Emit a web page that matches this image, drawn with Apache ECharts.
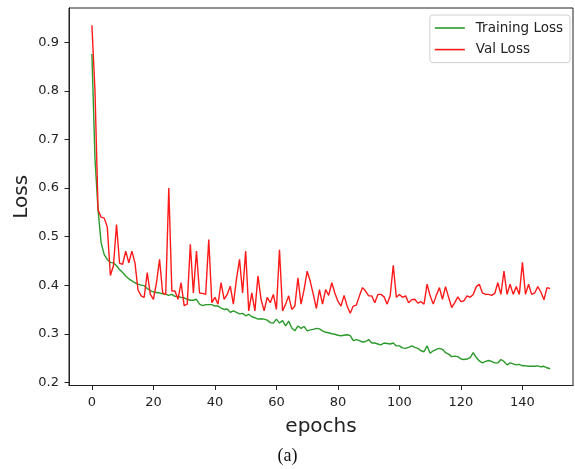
<!DOCTYPE html>
<html>
<head>
<meta charset="utf-8">
<script src="https://cdn.jsdelivr.net/npm/echarts@6/dist/echarts.min.js"></script>
<style>
html,body{margin:0;padding:0;background:#fff;}
#chart{width:575px;height:469px;}
</style>
</head>
<body>
<div id="chart"></div>
<script>
const epochs = Array.from({length:150}, (_, i) => i);
const trainLoss = [
0.876,0.66,0.555,0.487,0.463,0.453,0.447,0.446,0.44,0.432,
0.426,0.419,0.413,0.409,0.405,0.402,0.40,0.399,0.393,0.389,
0.386,0.385,0.384,0.382,0.381,0.379,0.381,0.377,0.377,0.375,
0.374,0.371,0.369,0.369,0.371,0.361,0.358,0.36,0.36,0.36,
0.357,0.357,0.353,0.35,0.351,0.344,0.347,0.344,0.341,0.342,
0.337,0.34,0.335,0.333,0.33,0.331,0.33,0.328,0.323,0.322,
0.33,0.322,0.327,0.316,0.326,0.312,0.306,0.316,0.311,0.315,
0.306,0.308,0.309,0.311,0.31,0.306,0.303,0.302,0.30,0.299,
0.297,0.296,0.297,0.298,0.296,0.286,0.288,0.286,0.283,0.284,
0.288,0.281,0.281,0.279,0.277,0.281,0.28,0.279,0.281,0.275,
0.275,0.271,0.27,0.272,0.275,0.272,0.27,0.265,0.263,0.275,
0.26,0.265,0.268,0.27,0.268,0.261,0.258,0.253,0.254,0.253,
0.248,0.247,0.248,0.251,0.261,0.251,0.244,0.24,0.243,0.245,
0.243,0.24,0.24,0.247,0.243,0.236,0.24,0.238,0.236,0.237,
0.234,0.234,0.233,0.233,0.233,0.234,0.232,0.233,0.23,0.228
];
const valLoss = [
0.935,0.80,0.555,0.54,0.538,0.52,0.42,0.44,0.525,0.445,
0.443,0.47,0.446,0.47,0.446,0.39,0.378,0.375,0.426,0.381,
0.371,0.405,0.453,0.384,0.381,0.60,0.388,0.388,0.371,0.405,
0.358,0.361,0.484,0.384,0.47,0.384,0.383,0.381,0.494,0.364,
0.375,0.361,0.405,0.371,0.381,0.398,0.361,0.412,0.453,0.384,
0.47,0.347,0.384,0.347,0.419,0.371,0.347,0.375,0.364,0.381,
0.35,0.473,0.347,0.361,0.378,0.35,0.357,0.415,0.361,0.391,
0.429,0.408,0.381,0.352,0.391,0.361,0.391,0.379,0.405,0.384,
0.367,0.357,0.379,0.357,0.342,0.357,0.359,0.378,0.395,0.388,
0.378,0.378,0.364,0.381,0.381,0.376,0.361,0.378,0.441,0.375,
0.381,0.375,0.378,0.364,0.37,0.371,0.363,0.366,0.361,0.402,
0.378,0.361,0.379,0.395,0.371,0.397,0.375,0.354,0.364,0.376,
0.366,0.368,0.378,0.375,0.381,0.397,0.402,0.384,0.381,0.381,
0.379,0.383,0.405,0.381,0.429,0.381,0.402,0.381,0.397,0.381,
0.447,0.381,0.402,0.381,0.384,0.397,0.386,0.37,0.395,0.393
];
const xTicks = [0,20,40,60,80,100,120,140];
const yTicks = [0.2,0.3,0.4,0.5,0.6,0.7,0.8,0.9];
const seriesNames = ['Training Loss','Val Loss'];
const xTitle = 'epochs';
const yTitle = 'Loss';
const caption = '(a)';

const font = 'DejaVu Sans';
const chart = echarts.init(document.getElementById('chart'), null, {renderer:'canvas'});
chart.setOption({
  animation:false,
  backgroundColor:'#fff',
  grid:{left:69, right:2, top:8, bottom:83.5, show:true, borderColor:'#222', borderWidth:1, backgroundColor:'transparent'},
  legend:{
    orient:'vertical', right:5, top:15,
    backgroundColor:'rgba(255,255,255,0.8)', borderColor:'#d0d0d0', borderWidth:1, borderRadius:3,
    padding:[5,7,5,5], itemGap:5.6, itemWidth:30, itemHeight:1.6, icon:'rect',
    textStyle:{fontFamily:font, fontSize:13.5, color:'#222', lineHeight:16, padding:[0,0,0,6]},
    data:seriesNames
  },
  xAxis:{
    type:'value', min:-7.45, max:156.45,
    name:xTitle, nameLocation:'middle', nameGap:31,
    nameTextStyle:{fontFamily:font, fontSize:20, color:'#222'},
    axisLine:{show:true, onZero:false, lineStyle:{color:'#222', width:1}},
    axisTick:{show:true, length:4.5, customValues:xTicks, lineStyle:{color:'#222'}},
    axisLabel:{customValues:xTicks, margin:11, fontFamily:font, fontSize:13, color:'#222'},
    splitLine:{show:false}
  },
  yAxis:{
    type:'value', min:0.1935, max:0.9705,
    name:yTitle, nameLocation:'middle', nameGap:37, nameRotate:90, nameMoveOverlap:false,
    nameTextStyle:{fontFamily:font, fontSize:20, color:'#222'},
    axisLine:{show:true, onZero:false, lineStyle:{color:'#222', width:1}},
    axisTick:{show:true, length:4.5, customValues:yTicks, lineStyle:{color:'#222'}},
    axisLabel:{customValues:yTicks, margin:10, fontFamily:font, fontSize:13, color:'#222',
      formatter:v => v.toFixed(1)},
    splitLine:{show:false}
  },
  series:[
    {name:seriesNames[0], type:'line', showSymbol:false, symbol:'none',
     data:epochs.map((e,i)=>[e,trainLoss[i]]),
     lineStyle:{color:'#2a9a2a', width:1.4}, itemStyle:{color:'#2a9a2a'}},
    {name:seriesNames[1], type:'line', showSymbol:false, symbol:'none',
     data:epochs.map((e,i)=>[e,valLoss[i]]),
     lineStyle:{color:'#ff1a1a', width:1.4}, itemStyle:{color:'#ff1a1a'}}
  ],
  graphic:[{
    type:'text', left:'center', top:447,
    style:{text:caption, fontFamily:'Liberation Serif', fontSize:18, fill:'#111'}
  }]
});
</script>
</body>
</html>
